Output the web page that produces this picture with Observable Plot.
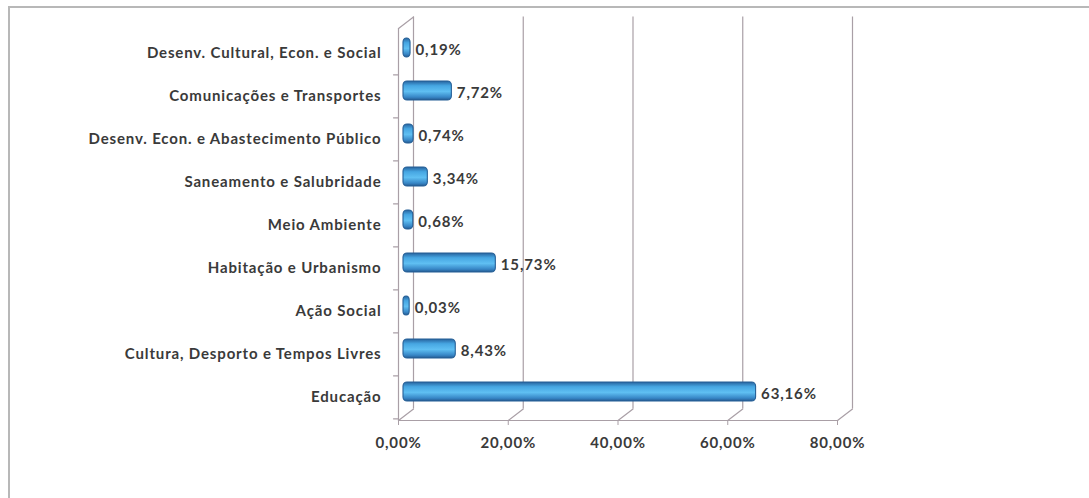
<!DOCTYPE html>
<html><head><meta charset="utf-8">
<script src="https://cdn.jsdelivr.net/npm/d3@7"></script>
<script src="https://cdn.jsdelivr.net/npm/@observablehq/plot@0.6"></script>
<style>
body{margin:0;background:#fff;}
#wrap{position:relative;width:1089px;height:498px;overflow:hidden;background:#fff;}
#chart{position:absolute;left:0;top:0;}
#chart text{letter-spacing:0.85px;}
#border{position:absolute;left:8px;top:6px;width:1200px;height:600px;border-top:2px solid #b8b8b8;border-left:2px solid #b8b8b8;}
</style></head><body>
<div id="wrap">
<svg width="0" height="0" style="position:absolute"><defs>
<linearGradient id="cyl" x1="0" y1="0" x2="0" y2="1">
<stop offset="0" stop-color="#27639e"/>
<stop offset="0.25" stop-color="#46a6e2"/>
<stop offset="0.55" stop-color="#5fbff2"/>
<stop offset="0.85" stop-color="#3786c6"/>
<stop offset="1" stop-color="#255a90"/>
</linearGradient></defs></svg>
<div id="chart"></div>
<div id="border"></div>
</div>
<script>
const categories = [
  "Desenv. Cultural, Econ. e Social",
  "Comunicações e Transportes",
  "Desenv. Econ. e Abastecimento Público",
  "Saneamento e Salubridade",
  "Meio Ambiente",
  "Habitação e Urbanismo",
  "Ação Social",
  "Cultura, Desporto e Tempos Livres",
  "Educação"
];
const values = [0.19, 7.72, 0.74, 3.34, 0.68, 15.73, 0.03, 8.43, 63.16];
const valueLabels = ["0,19%", "7,72%", "0,74%", "3,34%", "0,68%", "15,73%", "0,03%", "8,43%", "63,16%"];
const xTicks = [0, 20, 40, 60, 80];
const xTickLabels = ["0,00%", "20,00%", "40,00%", "60,00%", "80,00%"];

const data = categories.map((c, i) => ({cat: c, value: values[i], label: valueLabels[i]}));

const W = 1089, H = 498;
const mL = 398, mR = W - 837, mT = 28, mB = H - 420;
const step = (H - mT - mB) / categories.length;
const depthX = 15, depthY = -11.5;
const gridColor = "#a99fa6";
const font = "Lato, 'Open Sans', sans-serif";
const textColor = "#3a3a3a";

const chart = Plot.plot({
  width: W, height: H,
  marginLeft: mL, marginRight: mR, marginTop: mT, marginBottom: mB,
  style: {background: "transparent", fontFamily: font},
  x: {domain: [0, 80]},
  y: {domain: categories, padding: 0},
  marks: [
    // back wall gridlines
    Plot.ruleX(xTicks, {dx: depthX, dy: depthY, stroke: gridColor, strokeWidth: 1.2}),
    // floor diagonals
    Plot.vector(xTicks, {x: d => d, frameAnchor: "bottom", anchor: "start", shape: "spike", r: 0,
      length: Math.hypot(depthX, depthY), rotate: Math.atan2(depthX, -depthY) * 180 / Math.PI,
      stroke: gridColor, strokeWidth: 1.2}),
    // left wall top diagonal
    Plot.vector([0], {x: d => d, frameAnchor: "top", anchor: "start", shape: "spike", r: 0,
      length: Math.hypot(depthX, depthY), rotate: Math.atan2(depthX, -depthY) * 180 / Math.PI,
      stroke: gridColor, strokeWidth: 1.2}),
    // front left axis & floor line
    Plot.ruleX([0], {stroke: gridColor, strokeWidth: 1.2}),
    Plot.frame({anchor: "bottom", stroke: gridColor, strokeWidth: 1.2}),
    // y tick marks at band boundaries
    Plot.vector(categories, {y: d => d, frameAnchor: "left", dy: step / 2, anchor: "start", shape: "spike", r: 0,
      length: 5, rotate: 270, stroke: gridColor, strokeWidth: 1.2}),
    // bars
    Plot.barX(data, {x: "value", y: "cat", dx: 7, dy: -5, insetTop: 12, insetBottom: 12,
      insetLeft: -2, insetRight: -4, rx: 4, fill: "url(#cyl)", stroke: "#255f96", strokeWidth: 1.1}),
    // value labels
    Plot.text(data, {x: "value", y: "cat", text: "label", dx: 16, dy: -3, textAnchor: "start",
      fontSize: 15, fontWeight: 700, fill: textColor, fontFamily: font}),
    // axes
    Plot.axisY({tickSize: 0, tickPadding: 17, fontSize: 15, fontWeight: 700, fill: textColor, fontFamily: font, label: null}),
    Plot.axisX(xTicks, {tickSize: 5, tickPadding: 12, tickFormat: (d, i) => xTickLabels[i], stroke: gridColor,
      fontSize: 15, fontWeight: 700, fill: textColor, fontFamily: font, label: null})
  ]
});
document.getElementById("chart").appendChild(chart);
</script>
</body></html>
